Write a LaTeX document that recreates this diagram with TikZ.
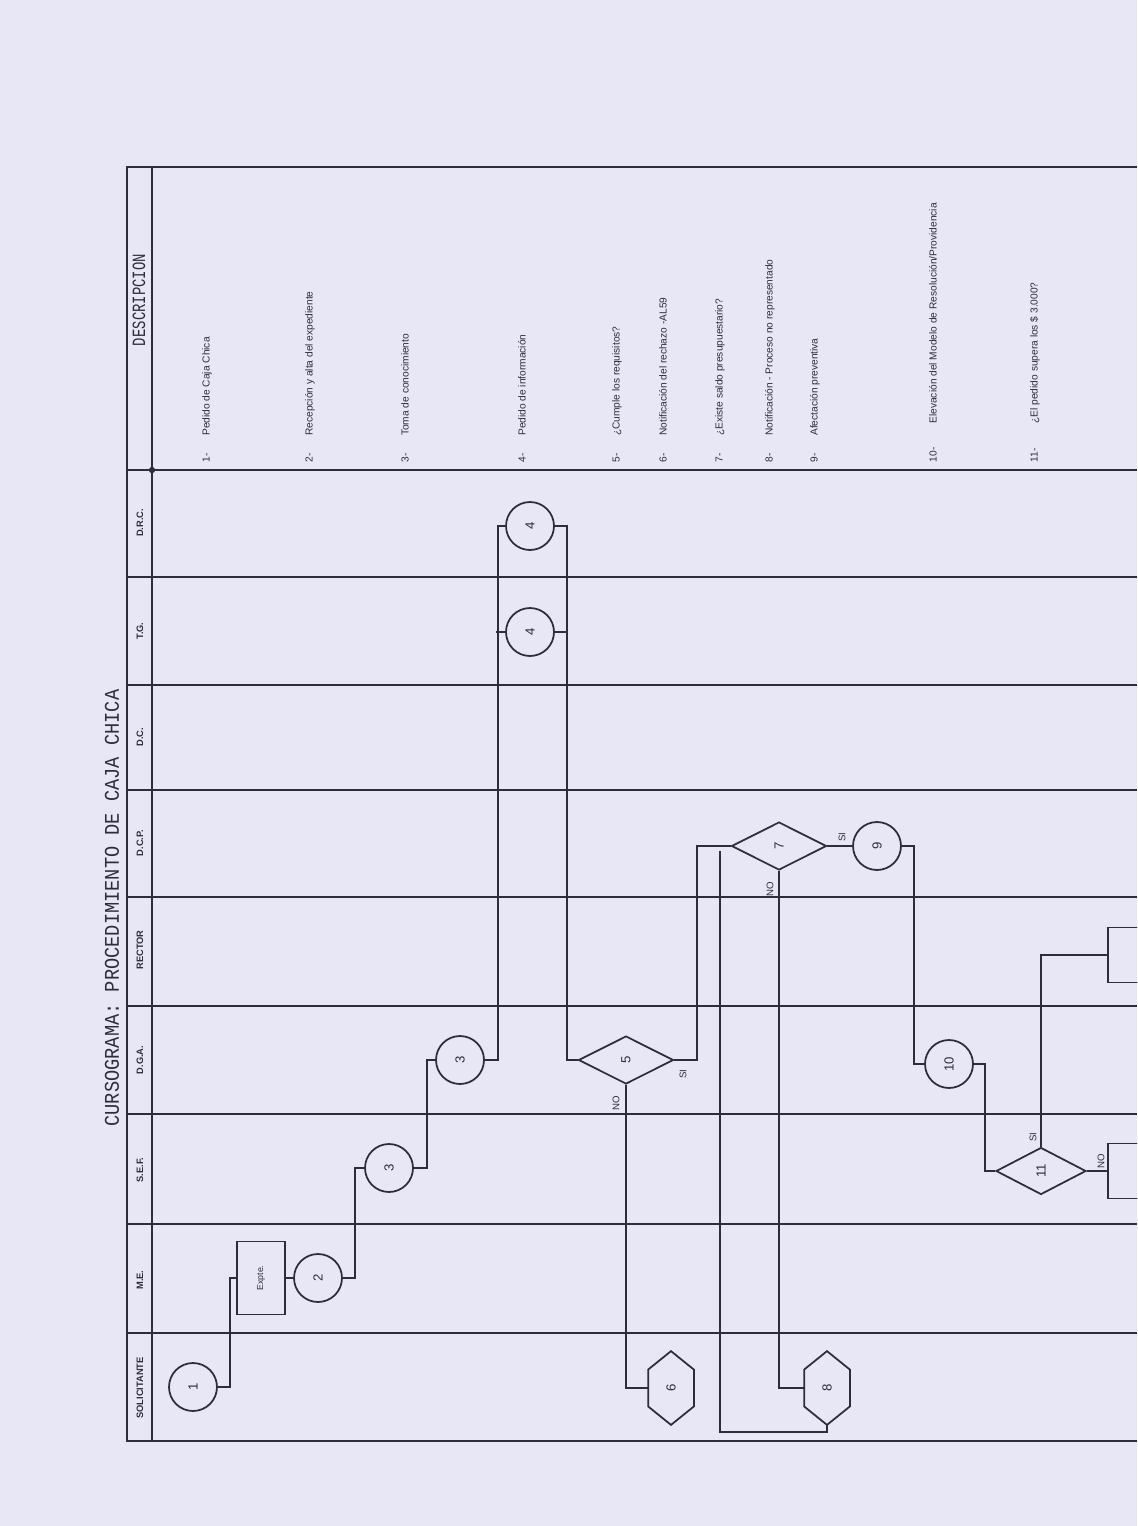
\documentclass[tikz,border=0pt]{standalone}
\usepackage{fontspec}
\setmainfont{Liberation Sans}
\newfontfamily\monocond{Liberation Mono}
\usetikzlibrary{shapes.geometric,calc}
\definecolor{paper}{RGB}{231,231,246}
\definecolor{ink}{RGB}{45,45,62}
\newcommand{\myrot}[1]{\rotatebox{90}{#1}}
\newcommand{\hexat}[1]{%
  \draw (#1.north) -- ($(#1.north east)!.25!(#1.south east)$) -- ($(#1.north east)!.75!(#1.south east)$)
   -- (#1.south) -- ($(#1.north west)!.75!(#1.south west)$) -- ($(#1.north west)!.25!(#1.south west)$) -- cycle;}
\begin{document}
\begin{tikzpicture}[x=0.02cm,y=-0.02cm,line width=1pt,color=ink,
  circ/.style={draw,circle,minimum size=0.96cm,inner sep=0pt,font=\fontsize{7.5}{8}\selectfont},
  dia/.style={draw,diamond,minimum width=1.9cm,minimum height=0.96cm,inner sep=0pt,font=\fontsize{7.5}{8}\selectfont},
  hexnode/.style={minimum width=0.88cm,minimum height=1.44cm,inner sep=0pt,font=\fontsize{7.5}{8}\selectfont},
  procbox/.style={draw,rectangle,inner sep=0pt},
  lane/.style={rotate=90,font=\bfseries\fontsize{5.3}{6}\selectfont,inner sep=0pt},
  desc/.style={rotate=90,anchor=west,font=\fontsize{5.8}{7}\selectfont,inner sep=0pt},
  yn/.style={rotate=90,font=\fontsize{5.5}{6}\selectfont,inner sep=0pt}]
\useasboundingbox (0,0) rectangle (1137,1526);
\clip (0,0) rectangle (1137,1526);
\fill[paper] (0,0) rectangle (1137,1526);

% title
\node[rotate=90,inner sep=0pt] (title) at (112,908) {\resizebox{8.74cm}{0.28cm}{\monocond CURSOGRAMA: PROCEDIMIENTO DE CAJA CHICA}};

% table frame
\draw (1137,167) -- (127,167) -- (127,1441) -- (1137,1441);
\draw (152,167) -- (152,1441);
\foreach \yy in {470,577,685,790,897,1006,1114,1224,1333}
  \draw (127,\yy) -- (1137,\yy);
\fill (152,470) circle (1.8pt);

% lane headers
\node[rotate=90,inner sep=0pt] (hdesc) at (139,300) {\resizebox{1.84cm}{0.25cm}{\monocond DESCRIPCION}};
\node[lane] (h1) at (140,1388) {SOLICITANTE};
\node[lane] (h2) at (140,1280) {M.E.};
\node[lane] (h3) at (140,1170) {S.E.F.};
\node[lane] (h4) at (140,1060) {D.G.A.};
\node[lane] (h5) at (140,950) {RECTOR};
\node[lane] (h6l) at (140,843) {D.C.P.};
\node[lane] (h7) at (140,737) {D.C.};
\node[lane] (h8l) at (140,631) {T.G.};
\node[lane] (h9) at (140,523) {D.R.C.};

% descriptions
\node[desc] (t1) at (207,463) {\makebox[15pt][l]{1-}Pedido de Caja Chica};
\node[desc] (t2) at (310,463) {\makebox[15pt][l]{2-}Recepción y alta del expediente};
\node[desc] (t3) at (405,463) {\makebox[15pt][l]{3-}Toma de conocimiento};
\node[desc] (t4) at (522,463) {\makebox[15pt][l]{4-}Pedido de información};
\node[desc] (t5) at (617,463) {\makebox[15pt][l]{5-}¿Cumple los requisitos?};
\node[desc] (t6) at (663,463) {\makebox[15pt][l]{6-}Notificación del rechazo -AL59};
\node[desc] (t7) at (720,463) {\makebox[15pt][l]{7-}¿Existe saldo presupuestario?};
\node[desc] (t8) at (770,463) {\makebox[15pt][l]{8-}Notificación - Proceso no representado};
\node[desc] (t9) at (815,463) {\makebox[15pt][l]{9-}Afectación preventiva};
\node[desc] (t10) at (933,463) {\makebox[22pt][l]{10-}Elevación del Modelo de Resolución/Providencia};
\node[desc] (t11) at (1035,463) {\makebox[22pt][l]{11-}¿El pedido supera los \$ 3.000?};

% flow nodes
\node[circ] (c1) at (193,1387) {\myrot{1}};
\node[procbox,minimum width=0.96cm,minimum height=1.46cm,font=\fontsize{5}{6}\selectfont] (ex) at (261,1278) {\myrot{Expte.}};
\node[circ] (c2) at (318,1278) {\myrot{2}};
\node[circ] (c3a) at (389,1168) {\myrot{3}};
\node[circ] (c3b) at (460,1060) {\myrot{3}};
\node[circ] (c4a) at (530,526) {\myrot{4}};
\node[circ] (c4b) at (530,632) {\myrot{4}};
\node[dia] (d5) at (626,1060) {\myrot{5}};
\node[dia] (d7) at (779,846) {\myrot{7}};
\node[circ] (c9) at (877,846) {\myrot{9}};
\node[circ] (c10) at (949,1064) {\myrot{10}};
\node[dia,minimum width=1.8cm,minimum height=0.94cm] (d11) at (1041,1171) {\myrot{11}};
\node[hexnode] (x6) at (671,1388) {\myrot{6}};
\hexat{x6}
\node[hexnode] (x8) at (827,1388) {\myrot{8}};
\hexat{x8}
\node[procbox,minimum width=1.24cm,minimum height=1.1cm] (r1) at (1139,955) {};
\node[procbox,minimum width=1.24cm,minimum height=1.1cm] (r2) at (1139,1171) {};
\coordinate (ret) at (720,851);

% connectors
\draw (c1.east) -- ++(12,0) |- (ex.west);
\draw (ex.east) -- (c2.west);
\draw (c2.east) -- ++(12,0) |- (c3a.west);
\draw (c3a.east) -- ++(13,0) |- (c3b.west);
\draw (c3b.east) -- ++(13,0) |- (c4a.west);
\draw (c4b.west) -- ++(-9,0);
\draw (c4a.east) -- ++(12,0) |- (d5.west);
\draw (c4b.east) -- ++(12,0);
\draw (d5.east) -- ++(23,0) |- (d7.west);
\draw (d5.south) |- (x6.west);
\draw (d7.south) |- (x8.west);
\draw (d7.east) -- (c9.west);
\draw (c9.east) -- ++(12,0) |- (c10.west);
\draw (c10.east) -- ++(11,0) |- (d11.west);
\draw (d11.north) |- (r1.west);
\draw (d11.east) -- (r2.west);
\draw (x8.south) -- ++(0,7) -| (ret);

% yes/no labels
\node[yn] (l1) at (616,1103) {NO};
\node[yn] (l2) at (683,1074) {SI};
\node[yn] (l3) at (842,837) {SI};
\node[yn] (l4) at (770,889) {NO};
\node[yn] (l5) at (1033,1137) {SI};
\node[yn] (l6) at (1101,1161) {NO};
\end{tikzpicture}
\end{document}
